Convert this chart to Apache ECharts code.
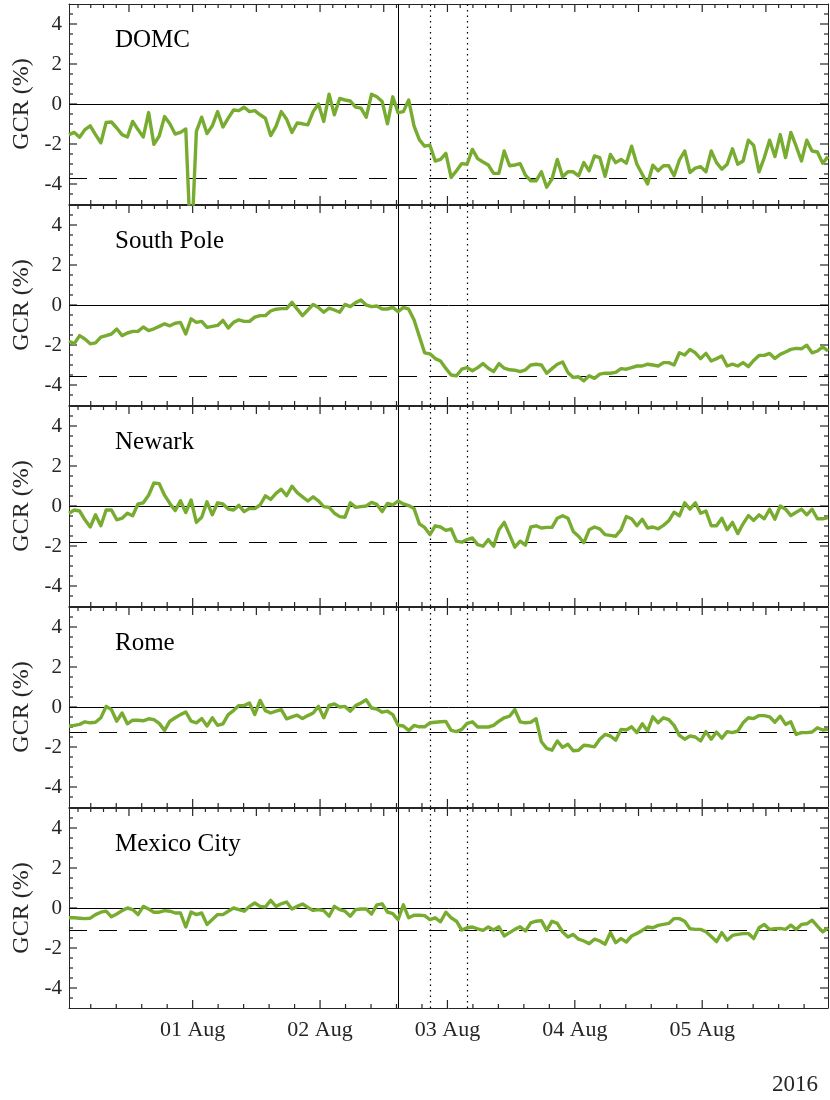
<!DOCTYPE html>
<html><head><meta charset="utf-8">
<script src="https://cdn.jsdelivr.net/npm/echarts@6/dist/echarts.min.js"></script>
<style>html,body{margin:0;padding:0;background:#fff}#c{width:830px;height:1100px}</style>
</head><body><div id="c"></div><script>
// ---- data (hourly GCR %, starting 31 Jul 00:42, 2016) ----
const stations = ['DOMC', 'South Pole', 'Newark', 'Rome', 'Mexico City'];
const gcrDOMC = [-1.53,-1.42,-1.66,-1.28,-1.09,-1.53,-1.94,-0.92,-0.9,-1.2,
 -1.53,-1.65,-0.87,-1.28,-1.65,-0.43,-2.02,-1.6,-0.63,-0.99,
 -1.5,-1.42,-1.25,-7.5,-1.37,-0.66,-1.48,-1.09,-0.38,-1.15,
 -0.71,-0.3,-0.33,-0.16,-0.38,-0.33,-0.54,-0.71,-1.58,-1.12,
 -0.38,-0.76,-1.42,-0.95,-0.99,-1.04,-0.38,0,-0.87,0.49,
 -0.54,0.28,0.2,0.15,-0.16,-0.21,-0.66,0.49,0.36,0.12,
 -0.99,0.36,-0.43,-0.38,0.2,-1.09,-1.78,-2.11,-2.06,-2.85,
 -2.77,-2.47,
 -3.67,-3.34,-2.98,-3.01,-2.27,-2.73,-2.9,-3.05,-3.47,-3.46,
 -2.35,-3.09,-3.05,-2.98,-3.56,-3.84,-3.84,-3.39,-4.16,-3.75,
 -2.77,-3.64,-3.39,-3.39,-3.59,-2.93,-3.34,-2.6,-2.68,-3.62,
 -2.52,-2.93,-2.77,-2.96,-2.11,-3.01,-3.51,-4.0,-3.06,-3.34,
 -3.09,-3.09,-3.59,-2.8,-2.35,-3.42,-3.21,-3.13,-3.39,-2.35,
 -2.93,-3.26,-3.01,-2.24,-3.01,-2.85,-1.81,-2.07,-3.39,-2.68,
 -1.81,-2.63,-1.53,-2.68,-1.42,-2.11,-2.85,-1.81,-2.35,-2.4,
 -2.96,-2.63];
const gcrSouthPole = [-1.81,-1.93,-1.53,-1.7,-1.94,-1.89,-1.61,-1.53,-1.45,-1.2,
 -1.53,-1.4,-1.32,-1.32,-1.1,-1.28,-1.19,-1.07,-0.94,-1.04,
 -0.91,-0.87,-1.45,-0.69,-0.87,-0.82,-1.12,-1.07,-1.02,-0.77,
 -1.15,-0.87,-0.74,-0.82,-0.82,-0.61,-0.53,-0.53,-0.3,-0.21,
 -0.18,-0.18,0.13,-0.21,-0.53,-0.25,0.03,-0.12,-0.36,-0.16,
 -0.25,-0.36,0.03,-0.08,0.12,0.25,0,-0.08,-0.05,-0.2,
 -0.2,-0.12,-0.33,-0.12,-0.21,-0.74,-1.56,-2.39,-2.44,-2.68,
 -2.8,-3.17,
 -3.5,-3.54,-3.21,-3.13,-3.29,-3.13,-2.93,-3.16,-3.33,-2.93,
 -3.16,-3.24,-3.26,-3.33,-3.24,-3.0,-2.96,-3.0,-3.41,-3.18,
 -2.96,-2.85,-3.37,-3.62,-3.59,-3.79,-3.54,-3.67,-3.46,-3.41,
 -3.41,-3.37,-3.18,-3.21,-3.13,-3.05,-3.05,-2.96,-3.0,-3.05,
 -2.88,-2.88,-3.0,-2.39,-2.5,-2.22,-2.39,-2.68,-2.42,-2.8,
 -2.68,-2.55,-3.05,-2.96,-3.05,-2.88,-3.08,-2.77,-2.52,-2.52,
 -2.42,-2.67,-2.47,-2.35,-2.22,-2.17,-2.19,-2.01,-2.39,-2.3,
 -2.09,-2.3];
const gcrNewark = [-0.36,-0.2,-0.25,-0.69,-1.05,-0.44,-0.99,-0.2,-0.2,-0.69,
 -0.61,-0.36,-0.49,0.1,0.16,0.54,1.15,1.12,0.54,0.13,
 -0.23,0.26,-0.33,0.3,-0.82,-0.56,0.21,-0.44,0.16,0.1,
 -0.15,-0.2,0.03,-0.28,-0.12,-0.13,0.05,0.51,0.33,0.63,
 0.84,0.51,0.99,0.67,0.46,0.25,0.46,0.26,-0.03,-0.07,
 -0.36,-0.53,-0.56,0.16,-0.07,-0.03,0,0.18,0.08,-0.28,
 0.13,0.05,0.25,0.1,0.02,-0.12,-0.89,-1.07,-1.43,-0.99,
 -1.05,-1.22,
 -1.15,-1.76,-1.81,-1.68,-1.6,-1.93,-2.01,-1.68,-2.01,-1.19,
 -0.82,-1.43,-2.06,-1.76,-1.96,-1.05,-0.99,-1.1,-1.07,-1.07,
 -0.61,-0.49,-0.61,-1.27,-1.51,-1.84,-1.19,-1.05,-1.14,-1.43,
 -1.47,-1.51,-1.19,-0.53,-0.64,-0.99,-0.66,-1.1,-1.05,-1.14,
 -0.97,-0.74,-0.31,-0.49,0.16,-0.16,0.16,-0.36,-0.25,-0.99,
 -0.99,-0.61,-1.19,-0.82,-1.38,-0.89,-0.48,-0.72,-0.44,-0.64,
 -0.16,-0.66,0,-0.16,-0.48,-0.31,-0.16,-0.44,-0.16,-0.64,
 -0.64,-0.58];
const gcrRome = [-0.95,-0.92,-0.87,-0.74,-0.79,-0.76,-0.54,0.03,-0.13,-0.71,
 -0.3,-0.84,-0.66,-0.66,-0.69,-0.59,-0.63,-0.82,-1.17,-0.71,
 -0.54,-0.38,-0.25,-0.71,-0.79,-0.58,-0.95,-0.54,-0.92,-0.84,
 -0.38,-0.18,0.07,0.07,0.2,-0.38,0.33,-0.18,-0.3,-0.21,
 -0.13,-0.59,-0.49,-0.41,-0.58,-0.43,-0.3,0.03,-0.54,0.08,
 0.15,0,0.03,-0.21,0.07,0.2,0.36,-0.05,-0.1,-0.26,
 -0.21,-0.38,-0.91,-0.95,-1.17,-0.92,-0.99,-0.99,-0.79,-0.76,
 -0.74,-0.72,
 -1.17,-1.23,-1.12,-0.82,-0.74,-1.0,-1.0,-1.0,-0.92,-0.71,
 -0.54,-0.46,-0.13,-0.74,-0.79,-0.76,-0.59,-1.74,-2.07,-2.16,
 -1.7,-2.02,-1.86,-2.19,-2.16,-1.91,-1.94,-1.99,-1.61,-1.37,
 -1.45,-1.66,-1.12,-1.15,-0.99,-1.28,-0.84,-1.2,-0.49,-0.79,
 -0.54,-0.63,-0.92,-1.42,-1.61,-1.45,-1.5,-1.7,-1.23,-1.61,
 -1.25,-1.56,-1.23,-1.28,-1.2,-0.79,-0.54,-0.58,-0.43,-0.43,
 -0.49,-0.76,-0.46,-0.87,-0.74,-1.37,-1.28,-1.28,-1.25,-1.04,
 -1.15,-1.12];
const gcrMexicoCity = [-0.49,-0.49,-0.51,-0.53,-0.51,-0.33,-0.21,-0.16,-0.44,-0.3,
 -0.13,0,-0.08,-0.33,0.08,-0.05,-0.21,-0.21,-0.13,-0.16,
 -0.25,-0.25,-0.95,-0.2,-0.33,-0.25,-0.82,-0.58,-0.33,-0.33,
 -0.16,0,-0.08,-0.16,0.08,0.25,0.08,0.05,0.38,0.08,
 0.21,0.3,-0.05,0.08,0.2,0.03,-0.12,-0.08,-0.13,-0.41,
 0.08,-0.08,-0.16,-0.41,-0.08,-0.05,-0.05,-0.3,0.16,0.21,
 -0.2,-0.28,-0.58,0.16,-0.49,-0.36,-0.36,-0.38,-0.58,-0.49,
 -0.69,-0.21,
 -0.49,-0.66,-1.1,-0.99,-0.95,-1.04,-1.12,-0.95,-1.1,-0.94,
 -1.4,-1.23,-1.07,-0.94,-1.15,-0.74,-0.66,-0.63,-1.12,-0.66,
 -0.77,-1.2,-1.45,-1.32,-1.56,-1.65,-1.78,-1.56,-1.65,-1.81,
 -1.23,-1.73,-1.53,-1.7,-1.4,-1.27,-1.12,-0.95,-0.99,-0.87,
 -0.82,-0.77,-0.53,-0.53,-0.66,-1.04,-1.07,-1.07,-1.19,-1.43,
 -1.68,-1.23,-1.61,-1.37,-1.32,-1.28,-1.28,-1.53,-0.99,-0.82,
 -1.07,-1.04,-1.02,-1.07,-0.86,-1.07,-0.82,-0.79,-0.61,-0.91,
 -1.19,-0.99];
const baselines = [-3.7, -3.55, -1.8, -1.27, -1.12];   // dashed reference levels
const startHour = 0.7;              // first sample, hours after 31 Jul 00:00
const dayHours = [24, 48, 72, 96, 120];
const dayLabels = ['01 Aug', '02 Aug', '03 Aug', '04 Aug', '05 Aug'];
const eventSolid = 62.8;            // hours after 31 Jul 00:00
const eventDotted = [68.8, 75.8];
const yTicks = [-4, -2, 0, 2, 4];
const yearLabel = '2016';
const yLabel = 'GCR (%)';

// ---- layout / style ----
const series = [gcrDOMC, gcrSouthPole, gcrNewark, gcrRome, gcrMexicoCity];
const FONT = 'Liberation Serif';
const INK = '#262626';
const GREEN = '#77AC30';
const H0 = startHour, H1 = startHour + gcrDOMC.length - 1;
const YMIN = -5, YMAX = 5;
const PLOT_L = 69, PLOT_W = 759, PANEL_TOP = 4, PANEL_H = 200, STEP = 201;
const MAJOR = 8, MINOR = 4, TW = 1.2;

// tick positions (in axis units)
const topMajor = [], topMinor = [], botMajor = [], botMinor = [], yMajor = yTicks.slice(), yMinor = [];
for (let k = 1; k < 80; k++) { const h = +(k * 2.4).toFixed(2); if (h > H1) break; (k % 5 === 0 ? topMajor : topMinor).push(h); }
for (let k = 1; k < 40; k++) { const h = +(k * 4.8).toFixed(2); if (h > H1) break; (k % 5 === 0 ? botMajor : botMinor).push(h); }
for (let v = -4.5; v <= 4.5; v += 0.5) { if (Math.abs(v % 2) > 1e-9) yMinor.push(v); }

function line(show) { return { show: show, onZero: false, lineStyle: { color: INK, width: 1 } }; }
function off() { return { show: false }; }

// tick marks drawn as thin rect symbols placed through the panel's own axes
function tickSeries(xi, yi, pts, size, offset) {
  return {
    type: 'scatter', xAxisIndex: xi, yAxisIndex: yi, data: pts,
    symbol: 'rect', symbolSize: size, symbolOffset: offset,
    itemStyle: { color: INK, opacity: 1 }, silent: true, clip: false, z: 4,
    emphasis: { disabled: true }, animation: false
  };
}

const grids = [], xAxes = [], yAxes = [], ser = [], graphics = [];
for (let k = 0; k < 5; k++) {
  const top = PANEL_TOP + STEP * k;
  const last = k === 4;
  grids.push({ left: PLOT_L, width: PLOT_W, top: top, height: PANEL_H });
  const xi = xAxes.length, yi = yAxes.length;
  xAxes.push({ type: 'value', gridIndex: k, min: H0, max: H1, position: 'bottom',
    axisLine: line(true), axisTick: off(), minorTick: off(), splitLine: off(),
    axisLabel: last ? { show: true, customValues: dayHours, margin: 11, fontSize: 22, color: INK, fontFamily: FONT,
      formatter: v => { const i = dayHours.indexOf(Math.round(v)); return i >= 0 ? dayLabels[i] : ''; } } : off() });
  xAxes.push({ type: 'value', gridIndex: k, min: H0, max: H1, position: 'top',
    axisLine: line(true), axisTick: off(), axisLabel: off(), splitLine: off() });
  yAxes.push({ type: 'value', gridIndex: k, min: YMIN, max: YMAX, position: 'left',
    axisLine: line(true), axisTick: off(), splitLine: off(),
    axisLabel: { show: true, customValues: yTicks, margin: 7, fontSize: 21, color: INK, fontFamily: FONT, formatter: v => String(v) },
    name: yLabel, nameLocation: 'middle', nameRotate: 90, nameGap: 27,
    nameTextStyle: { fontSize: 24, color: INK, fontFamily: FONT } });
  yAxes.push({ type: 'value', gridIndex: k, min: YMIN, max: YMAX, position: 'right',
    axisLine: line(true), axisTick: off(), axisLabel: off(), splitLine: off() });

  const ml = [
    { yAxis: 0, lineStyle: { color: '#000', width: 1, type: 'solid' } },
    { yAxis: baselines[k], lineStyle: { color: '#000', width: 1, type: [18, 12] } },
    { xAxis: eventSolid, lineStyle: { color: '#000', width: 1, type: 'solid' } }
  ];
  eventDotted.forEach(h => ml.push({ xAxis: h, lineStyle: { color: '#000', width: 1.2, type: [1.5, 4] } }));
  ser.push({
    type: 'line', name: stations[k], xAxisIndex: xi, yAxisIndex: yi,
    data: series[k].map((v, i) => [H0 + i, v]),
    symbol: 'none', showSymbol: false, clip: true, z: 5,
    lineStyle: { color: GREEN, width: 3.4, join: 'round' }, itemStyle: { color: GREEN },
    markLine: { silent: true, symbol: ['none', 'none'], label: { show: false }, animation: false, data: ml }
  });

  // inward ticks: bottom, top, left, right
  ser.push(tickSeries(xi, yi, botMajor.map(h => [h, YMIN]), [TW, MAJOR], [0, -MAJOR / 2]));
  ser.push(tickSeries(xi, yi, botMinor.map(h => [h, YMIN]), [TW, MINOR], [0, -MINOR / 2]));
  ser.push(tickSeries(xi, yi, topMajor.map(h => [h, YMAX]), [TW, MAJOR], [0, MAJOR / 2]));
  ser.push(tickSeries(xi, yi, topMinor.map(h => [h, YMAX]), [TW, MINOR], [0, MINOR / 2]));
  ser.push(tickSeries(xi, yi, yMajor.map(v => [H0, v]), [MAJOR, TW], [MAJOR / 2, 0]));
  ser.push(tickSeries(xi, yi, yMinor.map(v => [H0, v]), [MINOR, TW], [MINOR / 2, 0]));
  ser.push(tickSeries(xi, yi, yMajor.map(v => [H1, v]), [MAJOR, TW], [-MAJOR / 2, 0]));
  ser.push(tickSeries(xi, yi, yMinor.map(v => [H1, v]), [MINOR, TW], [-MINOR / 2, 0]));

  graphics.push({
    type: 'text', left: 115, top: top + 24, z: 10,
    style: { text: stations[k], font: '25px "' + FONT + '"', fill: '#000' }
  });
}
graphics.push({ type: 'text', right: 12, top: 1073, style: { text: yearLabel, font: '23px "' + FONT + '"', fill: INK } });

const chart = echarts.init(document.getElementById('c'), null, { renderer: 'canvas' });
chart.setOption({
  animation: false, backgroundColor: '#fff',
  grid: grids, xAxis: xAxes, yAxis: yAxes, series: ser, graphic: graphics,
  textStyle: { fontFamily: FONT }
});
</script></body></html>
